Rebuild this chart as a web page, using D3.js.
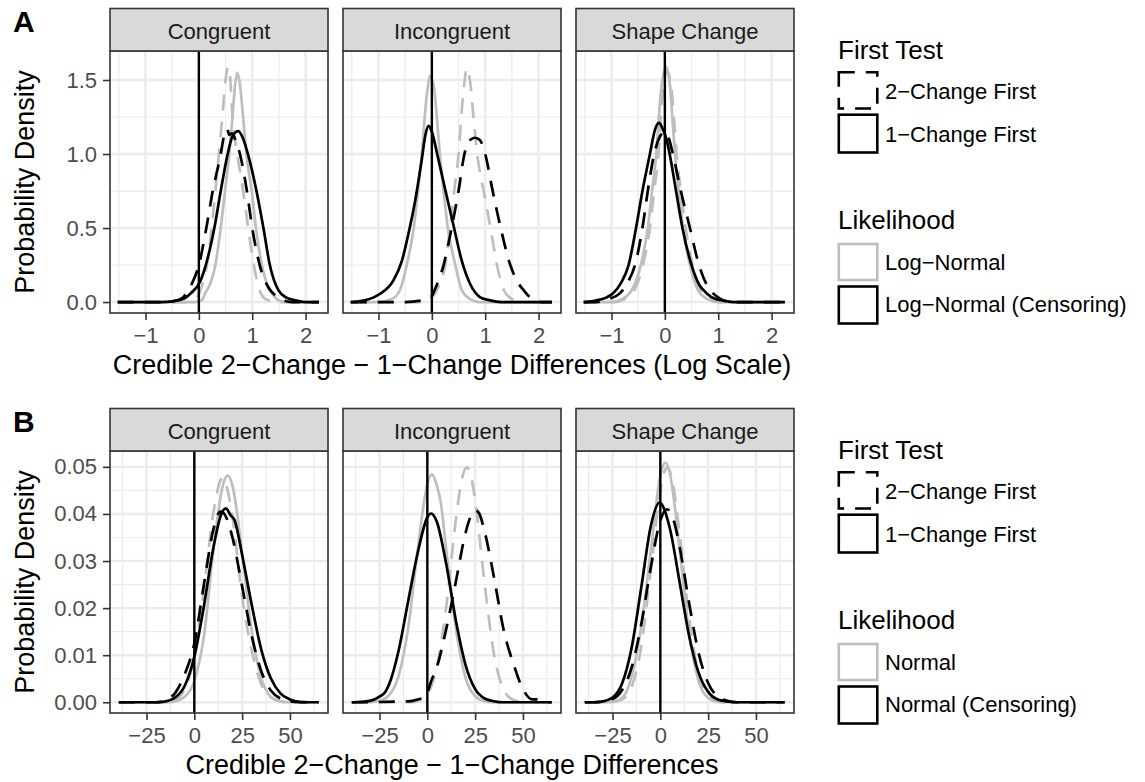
<!DOCTYPE html>
<html>
<head>
<meta charset="utf-8">
<script src="https://cdn.jsdelivr.net/npm/d3@7"></script>
<style>
  body { margin: 0; background: #fff; }
  svg { display: block; font-family: "Liberation Sans", Arial, Helvetica, sans-serif; }
</style>
</head>
<body>
<svg id="chart" width="1145" height="782"></svg>
<script>
// Posterior density plots, two rows (log scale / raw scale)

const facets = ["Congruent", "Incongruent", "Shape Change"];
const firstTestLabels = ["2−Change First", "1−Change First"];
const likelihoodA = ["Log−Normal", "Log−Normal (Censoring)"];
const likelihoodB = ["Normal", "Normal (Censoring)"];

// x extent covered by every density curve
const rangeA = [-1.52, 2.25];
const rangeB = [-39.5, 65];

const xTicksA = [-1, 0, 1, 2];
const xTickLabelsA = ["−1", "0", "1", "2"];
const xMinorA = [-1.5, -0.5, 0.5, 1.5];
const yTicksA = [0, 0.5, 1.0, 1.5];
const yTickLabelsA = ["0.0", "0.5", "1.0", "1.5"];
const yMinorA = [0.25, 0.75, 1.25];

const xTicksB = [-25, 0, 25, 50];
const xTickLabelsB = ["−25", "0", "25", "50"];
const xMinorB = [-37.5, -12.5, 12.5, 37.5, 62.5];
const yTicksB = [0, 0.01, 0.02, 0.03, 0.04, 0.05];
const yTickLabelsB = ["0.00", "0.01", "0.02", "0.03", "0.04", "0.05"];
const yMinorB = [0.005, 0.015, 0.025, 0.035, 0.045];

// ---- Row A (log scale) densities: [x, density] ----
const logCongLN2 = [[-0.25,0],[-0.1,0.01],[0.03,0.08],[0.15,0.25],[0.24,0.5],[0.31,0.75],[0.375,1.0],[0.44,1.25],[0.5,1.5],[0.55,1.59],[0.59,1.5],[0.63,1.25],[0.72,1.0],[0.83,0.75],[0.925,0.5],[1.03,0.25],[1.12,0.1],[1.25,0.02],[1.45,0]];
const logCongLN1 = [[-0.1,0],[0.05,0.01],[0.12,0.06],[0.22,0.13],[0.31,0.25],[0.41,0.5],[0.49,0.75],[0.57,1.0],[0.63,1.25],[0.68,1.47],[0.72,1.55],[0.77,1.47],[0.83,1.25],[0.89,1.0],[0.99,0.75],[1.07,0.5],[1.18,0.25],[1.28,0.12],[1.37,0.06],[1.5,0.01],[1.65,0]];
const logCongCens2 = [[-0.7,0],[-0.5,0.005],[-0.32,0.025],[-0.2,0.08],[-0.11,0.14],[0.0,0.25],[0.14,0.5],[0.26,0.75],[0.41,1.0],[0.47,1.12],[0.53,1.17],[0.57,1.13],[0.62,1.14],[0.69,1.09],[0.77,1.0],[0.9,0.75],[1.0,0.5],[1.14,0.25],[1.3,0.1],[1.45,0.04],[1.6,0.01],[1.75,0]];
const logCongCens1 = [[-0.7,0],[-0.5,0.005],[-0.3,0.02],[-0.15,0.06],[0.02,0.135],[0.13,0.25],[0.29,0.5],[0.41,0.75],[0.54,1.0],[0.63,1.12],[0.74,1.155],[0.81,1.12],[0.92,1.0],[1.08,0.75],[1.21,0.5],[1.33,0.25],[1.49,0.08],[1.64,0.03],[1.83,0.01],[2.0,0]];

const logIncLN2 = [[-0.15,0],[0.0,0.03],[0.12,0.1],[0.25,0.25],[0.34,0.5],[0.42,0.75],[0.5,1.0],[0.58,1.38],[0.66,1.58],[0.72,1.48],[0.78,1.25],[0.85,1.0],[0.97,0.75],[1.1,0.5],[1.22,0.25],[1.35,0.08],[1.5,0.02],[1.65,0]];
const logIncLN1 = [[-1.0,0],[-0.75,0.02],[-0.6,0.08],[-0.47,0.25],[-0.34,0.5],[-0.26,0.75],[-0.19,1.0],[-0.1,1.38],[-0.03,1.53],[0.05,1.42],[0.1,1.22],[0.15,1.0],[0.22,0.75],[0.3,0.5],[0.44,0.25],[0.56,0.08],[0.72,0.02],[0.9,0]];
const logIncCens2 = [[-0.5,0],[-0.2,0.01],[0.0,0.04],[0.05,0.08],[0.13,0.15],[0.22,0.25],[0.37,0.5],[0.5,0.75],[0.61,1.0],[0.68,1.08],[0.74,1.1],[0.8,1.11],[0.88,1.1],[0.94,1.07],[1.0,1.0],[1.14,0.75],[1.29,0.5],[1.47,0.25],[1.6,0.14],[1.72,0.08],[1.85,0.03],[1.92,0.02],[2.05,0]];
const logIncCens1 = [[-1.5,0],[-1.28,0.01],[-1.1,0.03],[-0.97,0.056],[-0.72,0.147],[-0.56,0.28],[-0.44,0.46],[-0.31,0.69],[-0.19,0.96],[-0.12,1.13],[-0.06,1.19],[0.0,1.15],[0.1,1.0],[0.25,0.76],[0.41,0.51],[0.56,0.28],[0.72,0.12],[0.9,0.034],[1.09,0.011],[1.3,0]];

const logShapeLN2 = [[-0.95,0],[-0.75,0.02],[-0.57,0.08],[-0.41,0.25],[-0.28,0.5],[-0.2,0.75],[-0.12,1.0],[-0.05,1.38],[0.04,1.56],[0.12,1.45],[0.17,1.25],[0.22,1.0],[0.3,0.75],[0.39,0.5],[0.52,0.25],[0.66,0.08],[0.85,0.02],[1.05,0]];
const logShapeLN1 = [[-1.0,0],[-0.8,0.02],[-0.62,0.08],[-0.45,0.25],[-0.32,0.5],[-0.24,0.75],[-0.16,1.0],[-0.08,1.4],[0.02,1.59],[0.1,1.45],[0.14,1.25],[0.19,1.0],[0.26,0.75],[0.34,0.5],[0.47,0.25],[0.62,0.08],[0.8,0.02],[1.0,0]];
const logShapeCens2 = [[-1.3,0],[-1.05,0.02],[-0.84,0.06],[-0.7,0.13],[-0.56,0.25],[-0.42,0.5],[-0.32,0.75],[-0.2,1.0],[-0.09,1.12],[0.0,1.15],[0.08,1.1],[0.15,1.0],[0.3,0.75],[0.47,0.5],[0.64,0.25],[0.78,0.12],[0.9,0.06],[1.05,0.02],[1.25,0]];
const logShapeCens1 = [[-1.5,0],[-1.3,0.01],[-1.1,0.03],[-0.97,0.06],[-0.82,0.13],[-0.68,0.25],[-0.54,0.5],[-0.42,0.75],[-0.28,1.0],[-0.18,1.17],[-0.11,1.21],[-0.04,1.17],[0.03,1.1],[0.09,1.0],[0.21,0.75],[0.33,0.5],[0.5,0.25],[0.64,0.12],[0.78,0.06],[0.95,0.02],[1.1,0.01],[1.3,0]];

// ---- Row B (raw scale) densities ----
const rawCongN2 = [[-15,0],[-10,0.0005],[-5,0.0028],[0,0.0097],[5,0.0238],[10,0.0404],[14.8,0.0477],[20,0.0392],[25,0.0224],[30,0.011],[35,0.0038],[40,0.001],[45,0.0002],[50,0]];
const rawCongN1 = [[-15,0],[-10,0.0002],[-5,0.0012],[0,0.0045],[5,0.014],[10,0.0324],[15,0.0462],[17.5,0.0482],[20,0.0459],[25,0.0317],[30,0.0152],[35,0.0051],[40,0.0012],[45,0.0002],[50,0]];
const rawCongCens2 = [[-20,0],[-15,0.0005],[-10,0.002],[-5,0.006],[0,0.0125],[5,0.025],[10,0.0368],[13,0.0403],[14,0.0405],[16,0.0398],[20,0.0349],[25,0.0246],[30,0.0141],[35,0.0066],[40,0.0025],[45,0.0008],[50,0.0002],[55,0]];
const rawCongCens1 = [[-20,0],[-15,0.0002],[-10,0.001],[-5,0.0035],[0,0.0097],[5,0.0204],[10,0.0329],[14,0.0399],[16.5,0.0412],[19,0.0397],[21,0.0387],[25,0.0313],[30,0.0207],[35,0.0112],[40,0.0051],[45,0.0019],[50,0.0006],[55,0.0001],[60,0]];

const rawIncN2 = [[-8,0],[-5,0.0003],[0,0.0018],[5,0.0075],[10,0.0207],[15,0.039],[18,0.0473],[20.6,0.0499],[23,0.0477],[25,0.0429],[30,0.025],[35,0.0099],[40,0.0026],[45,0.0005],[50,0.0001],[55,0]];
const rawIncN1 = [[-32,0],[-25,0.0003],[-20,0.0015],[-15,0.0056],[-10,0.0158],[-5,0.0325],[0,0.0464],[2.4,0.0484],[5,0.046],[7,0.0425],[10,0.032],[15,0.0155],[20,0.0052],[25,0.0013],[30,0.0002],[35,0]];
const rawIncCens2 = [[-10,0.0002],[-5,0.0006],[-1,0.0012],[0,0.002],[2,0.0045],[5,0.0075],[10,0.0158],[15,0.0258],[20,0.036],[23,0.0398],[25.2,0.0408],[27,0.0402],[30,0.0362],[35,0.0262],[40,0.0152],[45,0.0082],[50,0.0028],[55,0.0006],[57,0.0006],[60,0.0001],[63,0]];
const rawIncCens1 = [[-38,0],[-30,0.0003],[-25,0.0012],[-22,0.0022],[-20,0.0038],[-15,0.011],[-10,0.0215],[-5,0.0318],[0,0.0393],[2,0.0401],[5,0.0383],[10,0.0291],[15,0.0172],[20,0.0079],[25,0.0028],[30,0.0008],[35,0.0002],[40,0]];

const rawShapeN2 = [[-30,0],[-25,0.0001],[-20,0.0006],[-15,0.0033],[-10,0.0118],[-5,0.028],[0,0.0451],[3.6,0.0499],[6,0.0477],[10,0.0362],[15,0.0181],[20,0.0061],[25,0.0014],[30,0.0002],[35,0]];
const rawShapeN1 = [[-30,0],[-25,0.0001],[-20,0.0009],[-15,0.0055],[-10,0.016],[-5,0.0321],[0,0.0482],[2.6,0.0509],[5,0.0486],[10,0.0328],[15,0.0149],[20,0.0045],[25,0.0009],[30,0.0001],[35,0]];
const rawShapeCens2 = [[-35,0],[-25,0.0007],[-20,0.0026],[-15,0.0074],[-10,0.0165],[-5,0.0286],[0,0.0386],[3.5,0.041],[7,0.0386],[10,0.0332],[15,0.0212],[20,0.0105],[25,0.0041],[30,0.0012],[35,0.0003],[40,0]];
const rawShapeCens1 = [[-35,0],[-30,0.0002],[-25,0.001],[-20,0.004],[-15,0.0116],[-10,0.0243],[-5,0.0374],[-0.5,0.0424],[5,0.0369],[10,0.0257],[15,0.0142],[20,0.0063],[25,0.0022],[30,0.0006],[35,0.0002],[40,0]];

// draw order inside each facet: LN 2-change, LN 1-change, censoring 2-change, censoring 1-change
const seriesStyle = [
  { color: "#bebebe", dash: true },
  { color: "#bebebe", dash: false },
  { color: "#000000", dash: true },
  { color: "#000000", dash: false }
];

const rows = [
  {
    top: 0, letter: "A",
    xDomain: [-1.665, 2.42], yDomain: [-0.074, 1.696], range: rangeA,
    xTicks: xTicksA, xTickLabels: xTickLabelsA, xMinor: xMinorA,
    yTicks: yTicksA, yTickLabels: yTickLabelsA, yMinor: yMinorA,
    xTitle: "Credible 2−Change − 1−Change Differences (Log Scale)",
    likelihood: likelihoodA,
    curves: [
      [logCongLN2, logCongLN1, logCongCens2, logCongCens1],
      [logIncLN2, logIncLN1, logIncCens2, logIncCens1],
      [logShapeLN2, logShapeLN1, logShapeCens2, logShapeCens1]
    ]
  },
  {
    top: 400, letter: "B",
    xDomain: [-44.1, 69.9], yDomain: [-0.00228, 0.05337], range: rangeB,
    xTicks: xTicksB, xTickLabels: xTickLabelsB, xMinor: xMinorB,
    yTicks: yTicksB, yTickLabels: yTickLabelsB, yMinor: yMinorB,
    xTitle: "Credible 2−Change − 1−Change Differences",
    likelihood: likelihoodB,
    curves: [
      [rawCongN2, rawCongN1, rawCongCens2, rawCongCens1],
      [rawIncN2, rawIncN1, rawIncCens2, rawIncCens1],
      [rawShapeN2, rawShapeN1, rawShapeCens2, rawShapeCens1]
    ]
  }
];

const svg = d3.select("#chart");
svg.append("rect").attr("width", 1145).attr("height", 782).attr("fill", "#fff");

const panelLeft = [110, 343, 576];
const panelW = 218;
const dashPattern = "16,11";

function drawRow(row) {
  const g = svg.append("g").attr("transform", `translate(0,${row.top})`);
  const stripTop = 8.5, panelTop = 51, panelBottom = 313;

  const y = d3.scaleLinear().domain(row.yDomain).range([panelBottom, panelTop]);

  facets.forEach((name, fi) => {
    const left = panelLeft[fi];
    const x = d3.scaleLinear().domain(row.xDomain).range([left, left + panelW]);
    const pg = g.append("g");

    // grid
    pg.selectAll(".gxm").data(row.xMinor).join("line")
      .attr("x1", d => x(d)).attr("x2", d => x(d))
      .attr("y1", panelTop).attr("y2", panelBottom)
      .attr("stroke", "#ebebeb").attr("stroke-width", 1.2);
    pg.selectAll(".gym").data(row.yMinor).join("line")
      .attr("x1", left).attr("x2", left + panelW)
      .attr("y1", d => y(d)).attr("y2", d => y(d))
      .attr("stroke", "#ebebeb").attr("stroke-width", 1.2);
    pg.selectAll(".gx").data(row.xTicks).join("line")
      .attr("x1", d => x(d)).attr("x2", d => x(d))
      .attr("y1", panelTop).attr("y2", panelBottom)
      .attr("stroke", "#ebebeb").attr("stroke-width", 2.4);
    pg.selectAll(".gy").data(row.yTicks).join("line")
      .attr("x1", left).attr("x2", left + panelW)
      .attr("y1", d => y(d)).attr("y2", d => y(d))
      .attr("stroke", "#ebebeb").attr("stroke-width", 2.4);

    // density curves
    const line = d3.line()
      .x(d => x(d[0])).y(d => y(d[1]))
      .curve(d3.curveMonotoneX);
    row.curves[fi].forEach((pts, si) => {
      const full = pts.slice();
      if (full[0][0] > row.range[0]) full.unshift([row.range[0], 0]);
      if (full[full.length - 1][0] < row.range[1]) full.push([row.range[1], 0]);
      const st = seriesStyle[si];
      pg.append("path")
        .attr("d", line(full))
        .attr("fill", "none")
        .attr("stroke", st.color)
        .attr("stroke-width", 2.7)
        .attr("stroke-linejoin", "round")
        .attr("stroke-dasharray", st.dash ? dashPattern : null);
    });

    // reference line at zero
    pg.append("line")
      .attr("x1", x(0)).attr("x2", x(0))
      .attr("y1", panelTop).attr("y2", panelBottom)
      .attr("stroke", "#000").attr("stroke-width", 2.4);

    // panel border
    pg.append("rect")
      .attr("x", left).attr("y", panelTop)
      .attr("width", panelW).attr("height", panelBottom - panelTop)
      .attr("fill", "none").attr("stroke", "#333").attr("stroke-width", 1.6);

    // strip
    pg.append("rect")
      .attr("x", left).attr("y", stripTop)
      .attr("width", panelW).attr("height", panelTop - stripTop)
      .attr("fill", "#d9d9d9").attr("stroke", "#333").attr("stroke-width", 1.6);
    pg.append("text")
      .attr("x", left + panelW / 2).attr("y", stripTop + 30)
      .attr("text-anchor", "middle")
      .attr("font-size", 22).attr("fill", "#1a1a1a")
      .text(name);

    // x axis
    const xAxis = d3.axisBottom(x)
      .tickValues(row.xTicks)
      .tickFormat((d, i) => row.xTickLabels[i])
      .tickSize(7).tickPadding(7);
    const ax = pg.append("g").attr("transform", `translate(0,${panelBottom})`).call(xAxis);
    styleAxis(ax);

    if (fi === 0) {
      const yAxis = d3.axisLeft(y)
        .tickValues(row.yTicks)
        .tickFormat((d, i) => row.yTickLabels[i])
        .tickSize(7).tickPadding(6);
      const ay = pg.append("g").attr("transform", `translate(${left},0)`).call(yAxis);
      styleAxis(ay);
    }
  });

  // axis titles
  g.append("text")
    .attr("x", (panelLeft[0] + panelLeft[2] + panelW) / 2).attr("y", 374)
    .attr("text-anchor", "middle").attr("font-size", 27).attr("fill", "#000")
    .text(row.xTitle);
  g.append("text")
    .attr("transform", `translate(34,${(panelTop + panelBottom) / 2}) rotate(-90)`)
    .attr("text-anchor", "middle").attr("font-size", 27).attr("fill", "#000")
    .text("Probability Density");

  // panel letter
  g.append("text")
    .attr("x", 13).attr("y", 31.7)
    .attr("font-size", 30).attr("font-weight", "bold").attr("fill", "#000")
    .text(row.letter);

  // legends
  const lg = g.append("g");
  const keyX = 838.8, keyW = 38.5;
  lg.append("text").attr("x", 838).attr("y", 59)
    .attr("font-size", 26).attr("fill", "#000").text("First Test");
  const ftKeys = [
    { y0: 72.2, y1: 108.5, dash: true },
    { y0: 114.7, y1: 152.5, dash: false }
  ];
  const ftBase = [99.3, 141.7];
  firstTestLabels.forEach((lab, i) => {
    const k = ftKeys[i];
    lg.append("rect")
      .attr("x", keyX).attr("y", k.y0).attr("width", keyW).attr("height", k.y1 - k.y0)
      .attr("fill", "none").attr("stroke", "#000").attr("stroke-width", 2.6)
      .attr("stroke-dasharray", k.dash ? dashPattern : null);
    lg.append("text").attr("x", 885).attr("y", ftBase[i])
      .attr("font-size", 22).attr("fill", "#000").text(lab);
  });

  lg.append("text").attr("x", 838).attr("y", 229.3)
    .attr("font-size", 26).attr("fill", "#000").text("Likelihood");
  const lkKeys = [
    { y0: 244, y1: 280, color: "#bebebe" },
    { y0: 286.5, y1: 323.5, color: "#000" }
  ];
  const lkBase = [270, 312];
  row.likelihood.forEach((lab, i) => {
    const k = lkKeys[i];
    lg.append("rect")
      .attr("x", keyX).attr("y", k.y0).attr("width", keyW).attr("height", k.y1 - k.y0)
      .attr("fill", "none").attr("stroke", k.color).attr("stroke-width", 2.6);
    lg.append("text").attr("x", 885).attr("y", lkBase[i])
      .attr("font-size", 22).attr("fill", "#000").text(lab);
  });
}

function styleAxis(a) {
  a.select(".domain").remove();
  a.selectAll(".tick line").attr("stroke", "#333").attr("stroke-width", 1.6);
  a.selectAll(".tick text")
    .attr("fill", "#4d4d4d")
    .attr("font-size", 22)
    .attr("font-family", "'Liberation Sans', Arial, Helvetica, sans-serif");
}

rows.forEach(drawRow);
</script>
</body>
</html>
